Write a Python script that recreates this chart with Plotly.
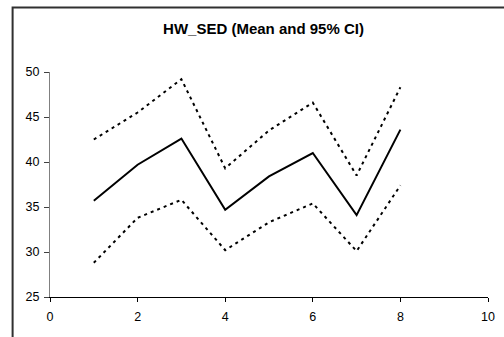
import plotly.graph_objects as go

x_vals = [1, 2, 3, 4, 5, 6, 7, 8]
mean_vals = [35.7, 39.7, 42.6, 34.7, 38.4, 41.0, 34.1, 43.6]
upper_vals = [42.5, 45.5, 49.2, 39.3, 43.5, 46.6, 38.5, 48.3]
lower_vals = [28.8, 33.8, 35.8, 30.2, 33.3, 35.4, 30.1, 37.4]
title_text = "HW_SED (Mean and 95% CI)"

W, H = 504, 337
ml, mr, mt, mb = 50, 9, 72, 40

fig = go.Figure()
fig.add_trace(go.Scatter(x=x_vals, y=upper_vals, mode="lines",
                         line=dict(color="black", width=2, dash="3px,4px"), showlegend=False))
fig.add_trace(go.Scatter(x=x_vals, y=mean_vals, mode="lines",
                         line=dict(color="black", width=2), showlegend=False))
fig.add_trace(go.Scatter(x=x_vals, y=lower_vals, mode="lines",
                         line=dict(color="black", width=2, dash="3px,4px"), showlegend=False))

pw = W - ml - mr
ph = H - mt - mb
# outer chart frame (only left/top visible in the crop)
fig.add_shape(type="rect", xref="paper", yref="paper",
              x0=(12 - ml) / pw, x1=(W + 20 - ml) / pw,
              y0=-(H + 20 - (H - mb)) / ph, y1=1 + (mt - 7.5) / ph,
              line=dict(color="#303030", width=2), layer="below")

fig.update_layout(
    width=W, height=H,
    margin=dict(l=ml, r=mr, t=mt, b=mb),
    paper_bgcolor="white", plot_bgcolor="white",
    font=dict(family="Liberation Sans, Arial, sans-serif", size=12.5, color="black"),
    title=dict(text="<b>" + title_text + "</b>", x=263.5 / W, xanchor="center",
               y=1 - 29 / H, yanchor="middle",
               font=dict(size=15, color="black")),
)
fig.update_xaxes(range=[0, 10], tickmode="array", tickvals=[0, 2, 4, 6, 8, 10],
                 showgrid=False, zeroline=False, showline=True, linecolor="black",
                 linewidth=1, ticks="outside", ticklen=4, tickcolor="black",
                 ticklabelstandoff=4)
fig.update_yaxes(range=[25, 50], tickmode="array", tickvals=[25, 30, 35, 40, 45, 50],
                 showgrid=False, zeroline=False, showline=True, linecolor="#808080",
                 linewidth=1, ticks="outside", ticklen=5, tickcolor="#404040",
                 ticklabelstandoff=2)

fig.write_html("out.html")
